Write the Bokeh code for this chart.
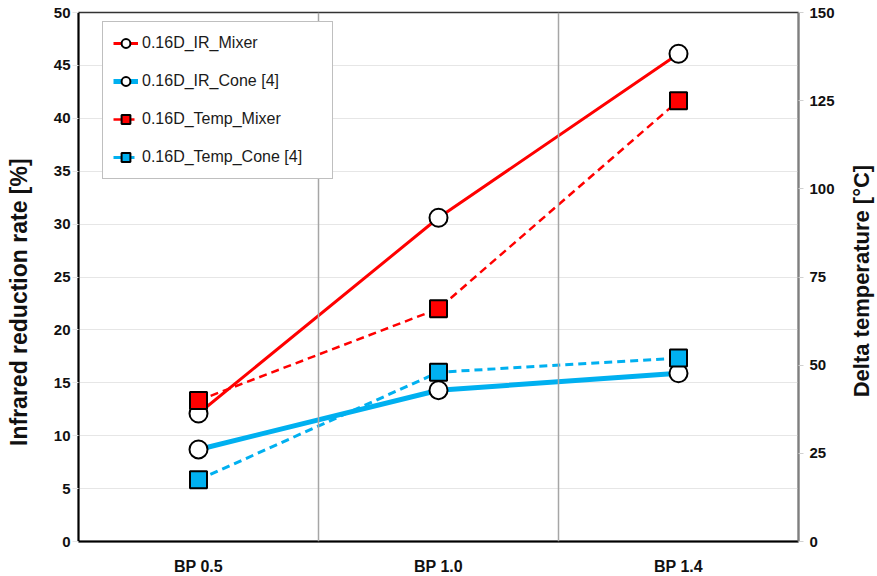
import math
from bokeh.plotting import figure
from bokeh.layouts import row
from bokeh.models import (FactorRange, Range1d, LinearAxis, Span, Legend, LegendItem,
                          FixedTicker, Label)
from bokeh.embed import file_html
from bokeh.resources import INLINE

categories = ["BP 0.5", "BP 1.0", "BP 1.4"]
ir_mixer = [12.1, 30.6, 46.1]
ir_cone = [8.7, 14.3, 15.9]
temp_mixer = [40.0, 66.0, 125.0]
temp_cone = [17.5, 48.0, 52.0]
left_ticks = list(range(0, 51, 5))
right_ticks = list(range(0, 151, 25))
labels = ["0.16D_IR_Mixer", "0.16D_IR_Cone [4]", "0.16D_Temp_Mixer", "0.16D_Temp_Cone [4]"]
left_title = "Infrared reduction rate [%]"
right_title = "Delta temperature [°C]"

RED = "#FF0000"
CYAN = "#00B0F0"
FONT = "Liberation Sans"
H = 576
LW, RW = 40, 34

p = figure(x_range=FactorRange(*categories), y_range=Range1d(0, 50),
           frame_width=720, frame_height=529, output_backend="svg",
           toolbar_location=None, min_border_left=38, min_border_right=45,
           min_border_top=12, min_border_bottom=35, background_fill_color="white")
p.extra_y_ranges = {"temp": Range1d(0, 150)}

p.outline_line_color = "#333333"
p.outline_line_width = 1.5

# grids
p.xgrid.visible = False
p.ygrid.ticker = FixedTicker(ticks=left_ticks)
p.ygrid.grid_line_color = "#e6e6e6"
p.ygrid.grid_line_width = 1.2
for loc in [1, 2]:
    p.add_layout(Span(location=loc, dimension="height", line_color="#a6a6a6", line_width=1.5))

# left axis
ya = p.yaxis[0]
ya.ticker = FixedTicker(ticks=left_ticks)
ya.major_label_text_font = FONT
ya.major_label_text_font_style = "bold"
ya.major_label_text_font_size = "15px"
ya.major_label_text_color = "#111111"
ya.axis_line_color = "black"
ya.axis_line_width = 2
ya.major_tick_in = 0
ya.major_tick_out = 6
ya.major_tick_line_color = "#e6e6e6"
ya.minor_tick_line_color = None
ya.major_label_standoff = 2

# right axis
ra = LinearAxis(y_range_name="temp", ticker=FixedTicker(ticks=right_ticks))
ra.major_label_text_font = FONT
ra.major_label_text_font_style = "bold"
ra.major_label_text_font_size = "15px"
ra.major_label_text_color = "#111111"
ra.axis_line_color = "#7f7f7f"
ra.axis_line_width = 2
ra.major_tick_in = 0
ra.major_tick_out = 5
ra.major_tick_line_color = "#d0d0d0"
ra.minor_tick_line_color = None
ra.major_label_standoff = 6
p.add_layout(ra, "right")

# x axis
xa = p.xaxis[0]
xa.major_label_text_font = FONT
xa.major_label_text_font_style = "bold"
xa.major_label_text_font_size = "16px"
xa.major_label_text_color = "#111111"
xa.axis_line_color = "black"
xa.axis_line_width = 2
xa.major_tick_line_color = None
xa.major_label_standoff = 10

# series
l1 = p.line(categories, ir_mixer, line_color=RED, line_width=3)
s1 = p.scatter(categories, ir_mixer, marker="circle", size=18, fill_color="white",
               line_color="black", line_width=2)
l2 = p.line(categories, ir_cone, line_color=CYAN, line_width=5)
s2 = p.scatter(categories, ir_cone, marker="circle", size=18, fill_color="white",
               line_color="black", line_width=2)
l3 = p.line(categories, temp_mixer, line_color=RED, line_width=2.5, line_dash="8 5",
            y_range_name="temp")
s3 = p.scatter(categories, temp_mixer, marker="square", size=17, fill_color=RED,
               line_color="black", line_width=2, y_range_name="temp")
l4 = p.line(categories, temp_cone, line_color=CYAN, line_width=3, line_dash="8 5",
            y_range_name="temp")
s4 = p.scatter(categories, temp_cone, marker="square", size=17, fill_color=CYAN,
               line_color="black", line_width=2, y_range_name="temp")

legend = Legend(items=[LegendItem(label=labels[0], renderers=[l1, s1]),
                       LegendItem(label=labels[1], renderers=[l2, s2]),
                       LegendItem(label=labels[2], renderers=[l3, s3]),
                       LegendItem(label=labels[3], renderers=[l4, s4])],
                location=(24, 362), orientation="vertical")
legend.label_text_font = FONT
legend.label_text_font_size = "16px"
legend.label_text_color = "#1a1a1a"
legend.glyph_width = 25
legend.glyph_height = 22
legend.label_height = 22
legend.spacing = 16
legend.padding = 10
legend.label_standoff = 4
legend.margin = 0
legend.border_line_color = "#7f7f7f"
legend.border_line_width = 1.5
legend.background_fill_color = "white"
legend.background_fill_alpha = 1
legend.label_width = 180
p.add_layout(legend, "center")


def side_panel(width, text, cy, size):
    f = figure(width=width, height=H, x_range=Range1d(0, width), y_range=Range1d(0, H),
               x_axis_type=None, y_axis_type=None, toolbar_location=None,
               output_backend="svg", min_border=0)
    f.outline_line_color = None
    f.grid.visible = False
    f.add_layout(Label(x=18, y=H - cy, text=text, angle=math.pi / 2,
                       text_align="center", text_baseline="middle",
                       text_font=FONT, text_font_style="bold", text_font_size=size,
                       text_color="#111111"))
    return f


left_panel = side_panel(LW, left_title, 316, "23px")
right_panel = side_panel(RW, right_title, 293, "22px")

layout = row(left_panel, p, right_panel, spacing=0)
open("out.html", "w").write(file_html(layout, INLINE))
